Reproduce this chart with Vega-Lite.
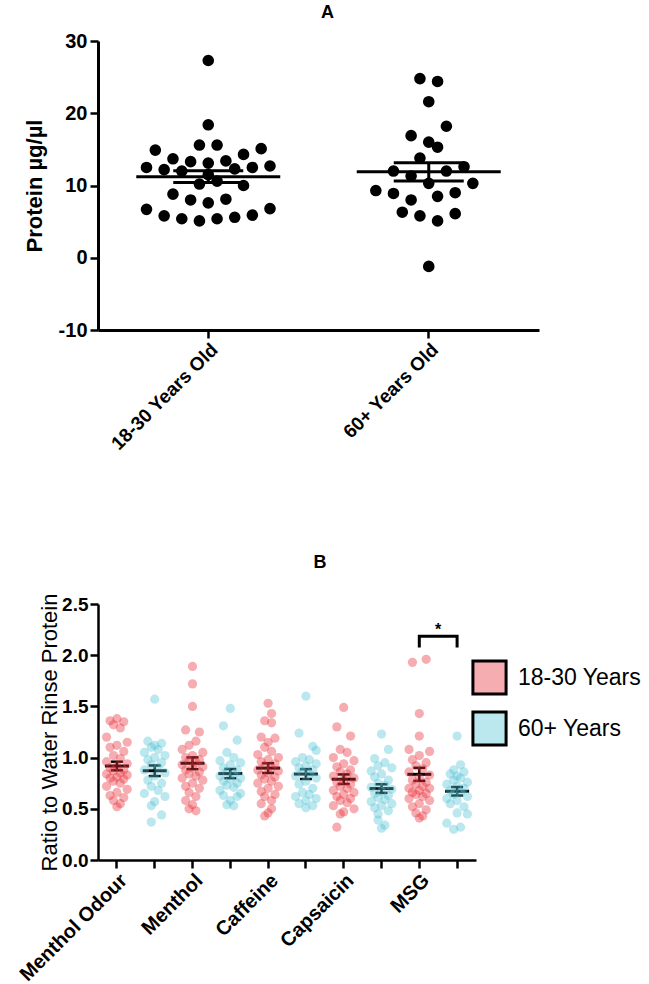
{
  "$schema": "https://vega.github.io/schema/vega-lite/v6.json",
  "padding": {"left": 15, "top": 4, "right": 0, "bottom": 0},
  "spacing": 100,
  "resolve": {"scale": {"xOffset": "independent"}},
  "config": {
    "view": {"stroke": null},
    "font": "Liberation Sans",
    "axis": {"grid": false, "domainColor": "#000", "tickColor": "#000", "labelColor": "#000", "titleColor": "#000", "labelFont": "Liberation Sans", "titleFont": "Liberation Sans", "labelOverlap": false},
    "title": {"font": "Liberation Sans", "fontSize": 18, "fontWeight": "bold", "color": "#000"}
  },
  "vconcat": [
    {
      "width": 441,
      "height": 289,
      "title": {"text": "A", "frame": "group", "dx": 9, "offset": 9},
      "data": {"values": [
        {"group":"18-30 Years Old","protein":27.3,"slot":0},
        {"group":"18-30 Years Old","protein":18.4,"slot":0},
        {"group":"18-30 Years Old","protein":15.6,"slot":-1},
        {"group":"18-30 Years Old","protein":15.6,"slot":1},
        {"group":"18-30 Years Old","protein":14.9,"slot":-6},
        {"group":"18-30 Years Old","protein":15.1,"slot":6},
        {"group":"18-30 Years Old","protein":13.7,"slot":-4},
        {"group":"18-30 Years Old","protein":13.3,"slot":-2},
        {"group":"18-30 Years Old","protein":13.1,"slot":0},
        {"group":"18-30 Years Old","protein":13.4,"slot":2},
        {"group":"18-30 Years Old","protein":14.3,"slot":4},
        {"group":"18-30 Years Old","protein":12.5,"slot":-7},
        {"group":"18-30 Years Old","protein":12.2,"slot":-5},
        {"group":"18-30 Years Old","protein":12.5,"slot":5},
        {"group":"18-30 Years Old","protein":12.7,"slot":7},
        {"group":"18-30 Years Old","protein":12.0,"slot":-3},
        {"group":"18-30 Years Old","protein":11.5,"slot":0},
        {"group":"18-30 Years Old","protein":12.3,"slot":3},
        {"group":"18-30 Years Old","protein":10.2,"slot":-1},
        {"group":"18-30 Years Old","protein":10.6,"slot":1},
        {"group":"18-30 Years Old","protein":10.0,"slot":4},
        {"group":"18-30 Years Old","protein":8.8,"slot":-4},
        {"group":"18-30 Years Old","protein":8.0,"slot":-2},
        {"group":"18-30 Years Old","protein":7.6,"slot":0},
        {"group":"18-30 Years Old","protein":8.1,"slot":2},
        {"group":"18-30 Years Old","protein":6.7,"slot":-7},
        {"group":"18-30 Years Old","protein":6.8,"slot":7},
        {"group":"18-30 Years Old","protein":5.8,"slot":-5},
        {"group":"18-30 Years Old","protein":5.4,"slot":-3},
        {"group":"18-30 Years Old","protein":5.1,"slot":-1},
        {"group":"18-30 Years Old","protein":5.4,"slot":1},
        {"group":"18-30 Years Old","protein":5.6,"slot":3},
        {"group":"18-30 Years Old","protein":5.9,"slot":5},
        {"group":"60+ Years Old","protein":24.8,"slot":-1},
        {"group":"60+ Years Old","protein":24.4,"slot":1},
        {"group":"60+ Years Old","protein":21.6,"slot":0},
        {"group":"60+ Years Old","protein":18.2,"slot":2},
        {"group":"60+ Years Old","protein":16.9,"slot":-2},
        {"group":"60+ Years Old","protein":16.0,"slot":0},
        {"group":"60+ Years Old","protein":15.3,"slot":1},
        {"group":"60+ Years Old","protein":13.8,"slot":-1},
        {"group":"60+ Years Old","protein":12.0,"slot":-4},
        {"group":"60+ Years Old","protein":12.0,"slot":2},
        {"group":"60+ Years Old","protein":12.6,"slot":4},
        {"group":"60+ Years Old","protein":11.3,"slot":-2},
        {"group":"60+ Years Old","protein":10.3,"slot":0},
        {"group":"60+ Years Old","protein":10.3,"slot":5},
        {"group":"60+ Years Old","protein":9.3,"slot":-6},
        {"group":"60+ Years Old","protein":8.9,"slot":-4},
        {"group":"60+ Years Old","protein":9.0,"slot":3},
        {"group":"60+ Years Old","protein":8.0,"slot":-2},
        {"group":"60+ Years Old","protein":8.5,"slot":1},
        {"group":"60+ Years Old","protein":6.3,"slot":-3},
        {"group":"60+ Years Old","protein":6.1,"slot":3},
        {"group":"60+ Years Old","protein":5.8,"slot":-1},
        {"group":"60+ Years Old","protein":5.1,"slot":1},
        {"group":"60+ Years Old","protein":-1.2,"slot":0}
      ]},
      "layer": [
        {
          "mark": {"type": "point", "filled": true, "size": 135, "color": "#000", "opacity": 1},
          "encoding": {
            "x": {"field": "group", "type": "nominal", "sort": null, "scale": {"paddingInner": 0, "paddingOuter": 0},
                  "axis": {"title": null, "labelAngle": -45, "labelFontSize": 19, "labelFontWeight": "bold", "tickSize": 8, "tickWidth": 2.5, "domainWidth": 3, "labelPadding": 2}},
            "xOffset": {"field": "slot", "type": "quantitative", "scale": {"domain": [-12.5, 12.5]}},
            "y": {"field": "protein", "type": "quantitative", "title": "Protein µg/µl",
                  "scale": {"domain": [-10, 30], "nice": false, "zero": false},
                  "axis": {"values": [-10, 0, 10, 20, 30], "labelExpr": "'' + datum.value", "titleFontSize": 22, "titleFontWeight": "bold", "labelFontSize": 20, "labelFontWeight": "bold", "tickSize": 8, "tickWidth": 2.5, "domainWidth": 3, "labelPadding": 3, "titlePadding": 12}}
          }
        },
        {
          "mark": {"type": "errorbar", "extent": "stderr", "color": "#000", "opacity": 1, "thickness": 3, "size": 70, "ticks": {"opacity": 1, "color": "#000"}, "rule": {"opacity": 1, "color": "#000"}},
          "encoding": {
            "x": {"field": "group", "type": "nominal", "sort": null},
            "y": {"field": "protein", "type": "quantitative", "title": "Protein µg/µl"}
          }
        },
        {
          "mark": {"type": "tick", "size": 144, "thickness": 3, "color": "#000", "opacity": 1},
          "encoding": {
            "x": {"field": "group", "type": "nominal", "sort": null},
            "y": {"aggregate": "mean", "field": "protein", "type": "quantitative", "title": "Protein µg/µl"}
          }
        }
      ]
    },
    {
      "width": 378,
      "height": 256,
      "title": {"text": "B", "frame": "group", "dx": 33, "offset": 21},
      "layer": [
        {
          "data": {"values": [
            {"column":"Menthol Odour|18-30","age":"18-30 Years","ratio":1.38,"slot":0},
            {"column":"Menthol Odour|18-30","age":"18-30 Years","ratio":1.36,"slot":-2},
            {"column":"Menthol Odour|18-30","age":"18-30 Years","ratio":1.35,"slot":2},
            {"column":"Menthol Odour|18-30","age":"18-30 Years","ratio":1.32,"slot":-1},
            {"column":"Menthol Odour|18-30","age":"18-30 Years","ratio":1.29,"slot":1},
            {"column":"Menthol Odour|18-30","age":"18-30 Years","ratio":1.20,"slot":-3},
            {"column":"Menthol Odour|18-30","age":"18-30 Years","ratio":1.15,"slot":3},
            {"column":"Menthol Odour|18-30","age":"18-30 Years","ratio":1.12,"slot":0},
            {"column":"Menthol Odour|18-30","age":"18-30 Years","ratio":1.10,"slot":-2},
            {"column":"Menthol Odour|18-30","age":"18-30 Years","ratio":1.06,"slot":2},
            {"column":"Menthol Odour|18-30","age":"18-30 Years","ratio":1.02,"slot":-1},
            {"column":"Menthol Odour|18-30","age":"18-30 Years","ratio":0.99,"slot":1},
            {"column":"Menthol Odour|18-30","age":"18-30 Years","ratio":0.96,"slot":-3},
            {"column":"Menthol Odour|18-30","age":"18-30 Years","ratio":0.94,"slot":3},
            {"column":"Menthol Odour|18-30","age":"18-30 Years","ratio":0.92,"slot":0},
            {"column":"Menthol Odour|18-30","age":"18-30 Years","ratio":0.90,"slot":-2},
            {"column":"Menthol Odour|18-30","age":"18-30 Years","ratio":0.88,"slot":2},
            {"column":"Menthol Odour|18-30","age":"18-30 Years","ratio":0.87,"slot":-1},
            {"column":"Menthol Odour|18-30","age":"18-30 Years","ratio":0.85,"slot":1},
            {"column":"Menthol Odour|18-30","age":"18-30 Years","ratio":0.84,"slot":-3},
            {"column":"Menthol Odour|18-30","age":"18-30 Years","ratio":0.83,"slot":3},
            {"column":"Menthol Odour|18-30","age":"18-30 Years","ratio":0.81,"slot":0},
            {"column":"Menthol Odour|18-30","age":"18-30 Years","ratio":0.80,"slot":-2},
            {"column":"Menthol Odour|18-30","age":"18-30 Years","ratio":0.79,"slot":2},
            {"column":"Menthol Odour|18-30","age":"18-30 Years","ratio":0.77,"slot":-1},
            {"column":"Menthol Odour|18-30","age":"18-30 Years","ratio":0.75,"slot":1},
            {"column":"Menthol Odour|18-30","age":"18-30 Years","ratio":0.72,"slot":-3},
            {"column":"Menthol Odour|18-30","age":"18-30 Years","ratio":0.69,"slot":3},
            {"column":"Menthol Odour|18-30","age":"18-30 Years","ratio":0.66,"slot":0},
            {"column":"Menthol Odour|18-30","age":"18-30 Years","ratio":0.63,"slot":-2},
            {"column":"Menthol Odour|18-30","age":"18-30 Years","ratio":0.61,"slot":2},
            {"column":"Menthol Odour|18-30","age":"18-30 Years","ratio":0.58,"slot":-1},
            {"column":"Menthol Odour|18-30","age":"18-30 Years","ratio":0.55,"slot":1},
            {"column":"Menthol Odour|18-30","age":"18-30 Years","ratio":0.52,"slot":0},

            {"column":"Menthol Odour|60+","age":"60+ Years","ratio":1.57,"slot":0},
            {"column":"Menthol Odour|60+","age":"60+ Years","ratio":1.16,"slot":-2},
            {"column":"Menthol Odour|60+","age":"60+ Years","ratio":1.14,"slot":2},
            {"column":"Menthol Odour|60+","age":"60+ Years","ratio":1.12,"slot":0},
            {"column":"Menthol Odour|60+","age":"60+ Years","ratio":1.10,"slot":-1},
            {"column":"Menthol Odour|60+","age":"60+ Years","ratio":1.08,"slot":1},
            {"column":"Menthol Odour|60+","age":"60+ Years","ratio":1.05,"slot":-3},
            {"column":"Menthol Odour|60+","age":"60+ Years","ratio":1.02,"slot":3},
            {"column":"Menthol Odour|60+","age":"60+ Years","ratio":1.00,"slot":0},
            {"column":"Menthol Odour|60+","age":"60+ Years","ratio":0.98,"slot":-2},
            {"column":"Menthol Odour|60+","age":"60+ Years","ratio":0.95,"slot":2},
            {"column":"Menthol Odour|60+","age":"60+ Years","ratio":0.93,"slot":-1},
            {"column":"Menthol Odour|60+","age":"60+ Years","ratio":0.90,"slot":1},
            {"column":"Menthol Odour|60+","age":"60+ Years","ratio":0.88,"slot":-3},
            {"column":"Menthol Odour|60+","age":"60+ Years","ratio":0.85,"slot":3},
            {"column":"Menthol Odour|60+","age":"60+ Years","ratio":0.82,"slot":0},
            {"column":"Menthol Odour|60+","age":"60+ Years","ratio":0.78,"slot":-2},
            {"column":"Menthol Odour|60+","age":"60+ Years","ratio":0.75,"slot":2},
            {"column":"Menthol Odour|60+","age":"60+ Years","ratio":0.72,"slot":-1},
            {"column":"Menthol Odour|60+","age":"60+ Years","ratio":0.68,"slot":1},
            {"column":"Menthol Odour|60+","age":"60+ Years","ratio":0.65,"slot":-3},
            {"column":"Menthol Odour|60+","age":"60+ Years","ratio":0.62,"slot":3},
            {"column":"Menthol Odour|60+","age":"60+ Years","ratio":0.57,"slot":0},
            {"column":"Menthol Odour|60+","age":"60+ Years","ratio":0.53,"slot":-1},
            {"column":"Menthol Odour|60+","age":"60+ Years","ratio":0.44,"slot":2},
            {"column":"Menthol Odour|60+","age":"60+ Years","ratio":0.37,"slot":-1},

            {"column":"Menthol|18-30","age":"18-30 Years","ratio":1.89,"slot":0},
            {"column":"Menthol|18-30","age":"18-30 Years","ratio":1.72,"slot":0},
            {"column":"Menthol|18-30","age":"18-30 Years","ratio":1.50,"slot":0},
            {"column":"Menthol|18-30","age":"18-30 Years","ratio":1.27,"slot":-2},
            {"column":"Menthol|18-30","age":"18-30 Years","ratio":1.25,"slot":2},
            {"column":"Menthol|18-30","age":"18-30 Years","ratio":1.16,"slot":1},
            {"column":"Menthol|18-30","age":"18-30 Years","ratio":1.12,"slot":-1},
            {"column":"Menthol|18-30","age":"18-30 Years","ratio":1.08,"slot":-3},
            {"column":"Menthol|18-30","age":"18-30 Years","ratio":1.05,"slot":3},
            {"column":"Menthol|18-30","age":"18-30 Years","ratio":1.02,"slot":0},
            {"column":"Menthol|18-30","age":"18-30 Years","ratio":1.00,"slot":-2},
            {"column":"Menthol|18-30","age":"18-30 Years","ratio":0.98,"slot":2},
            {"column":"Menthol|18-30","age":"18-30 Years","ratio":0.97,"slot":-1},
            {"column":"Menthol|18-30","age":"18-30 Years","ratio":0.95,"slot":1},
            {"column":"Menthol|18-30","age":"18-30 Years","ratio":0.93,"slot":-3},
            {"column":"Menthol|18-30","age":"18-30 Years","ratio":0.91,"slot":3},
            {"column":"Menthol|18-30","age":"18-30 Years","ratio":0.90,"slot":0},
            {"column":"Menthol|18-30","age":"18-30 Years","ratio":0.88,"slot":-2},
            {"column":"Menthol|18-30","age":"18-30 Years","ratio":0.86,"slot":2},
            {"column":"Menthol|18-30","age":"18-30 Years","ratio":0.84,"slot":-1},
            {"column":"Menthol|18-30","age":"18-30 Years","ratio":0.82,"slot":1},
            {"column":"Menthol|18-30","age":"18-30 Years","ratio":0.80,"slot":-3},
            {"column":"Menthol|18-30","age":"18-30 Years","ratio":0.78,"slot":3},
            {"column":"Menthol|18-30","age":"18-30 Years","ratio":0.75,"slot":0},
            {"column":"Menthol|18-30","age":"18-30 Years","ratio":0.72,"slot":-2},
            {"column":"Menthol|18-30","age":"18-30 Years","ratio":0.70,"slot":2},
            {"column":"Menthol|18-30","age":"18-30 Years","ratio":0.66,"slot":-1},
            {"column":"Menthol|18-30","age":"18-30 Years","ratio":0.62,"slot":1},
            {"column":"Menthol|18-30","age":"18-30 Years","ratio":0.58,"slot":-2},
            {"column":"Menthol|18-30","age":"18-30 Years","ratio":0.54,"slot":0},
            {"column":"Menthol|18-30","age":"18-30 Years","ratio":0.50,"slot":-1},
            {"column":"Menthol|18-30","age":"18-30 Years","ratio":0.48,"slot":1},

            {"column":"Menthol|60+","age":"60+ Years","ratio":1.48,"slot":0},
            {"column":"Menthol|60+","age":"60+ Years","ratio":1.31,"slot":-2},
            {"column":"Menthol|60+","age":"60+ Years","ratio":1.17,"slot":2},
            {"column":"Menthol|60+","age":"60+ Years","ratio":1.05,"slot":-1},
            {"column":"Menthol|60+","age":"60+ Years","ratio":1.00,"slot":1},
            {"column":"Menthol|60+","age":"60+ Years","ratio":0.97,"slot":-3},
            {"column":"Menthol|60+","age":"60+ Years","ratio":0.95,"slot":3},
            {"column":"Menthol|60+","age":"60+ Years","ratio":0.93,"slot":0},
            {"column":"Menthol|60+","age":"60+ Years","ratio":0.90,"slot":-2},
            {"column":"Menthol|60+","age":"60+ Years","ratio":0.88,"slot":2},
            {"column":"Menthol|60+","age":"60+ Years","ratio":0.86,"slot":-1},
            {"column":"Menthol|60+","age":"60+ Years","ratio":0.84,"slot":1},
            {"column":"Menthol|60+","age":"60+ Years","ratio":0.82,"slot":-3},
            {"column":"Menthol|60+","age":"60+ Years","ratio":0.80,"slot":3},
            {"column":"Menthol|60+","age":"60+ Years","ratio":0.79,"slot":0},
            {"column":"Menthol|60+","age":"60+ Years","ratio":0.77,"slot":-2},
            {"column":"Menthol|60+","age":"60+ Years","ratio":0.75,"slot":2},
            {"column":"Menthol|60+","age":"60+ Years","ratio":0.73,"slot":-1},
            {"column":"Menthol|60+","age":"60+ Years","ratio":0.71,"slot":1},
            {"column":"Menthol|60+","age":"60+ Years","ratio":0.68,"slot":-3},
            {"column":"Menthol|60+","age":"60+ Years","ratio":0.65,"slot":3},
            {"column":"Menthol|60+","age":"60+ Years","ratio":0.63,"slot":-2},
            {"column":"Menthol|60+","age":"60+ Years","ratio":0.62,"slot":2},
            {"column":"Menthol|60+","age":"60+ Years","ratio":0.58,"slot":0},
            {"column":"Menthol|60+","age":"60+ Years","ratio":0.54,"slot":-1},
            {"column":"Menthol|60+","age":"60+ Years","ratio":0.53,"slot":1},

            {"column":"Caffeine|18-30","age":"18-30 Years","ratio":1.53,"slot":0},
            {"column":"Caffeine|18-30","age":"18-30 Years","ratio":1.43,"slot":1},
            {"column":"Caffeine|18-30","age":"18-30 Years","ratio":1.36,"slot":-1},
            {"column":"Caffeine|18-30","age":"18-30 Years","ratio":1.34,"slot":1},
            {"column":"Caffeine|18-30","age":"18-30 Years","ratio":1.20,"slot":-2},
            {"column":"Caffeine|18-30","age":"18-30 Years","ratio":1.19,"slot":2},
            {"column":"Caffeine|18-30","age":"18-30 Years","ratio":1.15,"slot":0},
            {"column":"Caffeine|18-30","age":"18-30 Years","ratio":1.10,"slot":-1},
            {"column":"Caffeine|18-30","age":"18-30 Years","ratio":1.06,"slot":1},
            {"column":"Caffeine|18-30","age":"18-30 Years","ratio":1.03,"slot":-3},
            {"column":"Caffeine|18-30","age":"18-30 Years","ratio":1.00,"slot":3},
            {"column":"Caffeine|18-30","age":"18-30 Years","ratio":0.98,"slot":0},
            {"column":"Caffeine|18-30","age":"18-30 Years","ratio":0.96,"slot":-2},
            {"column":"Caffeine|18-30","age":"18-30 Years","ratio":0.94,"slot":2},
            {"column":"Caffeine|18-30","age":"18-30 Years","ratio":0.92,"slot":-1},
            {"column":"Caffeine|18-30","age":"18-30 Years","ratio":0.90,"slot":1},
            {"column":"Caffeine|18-30","age":"18-30 Years","ratio":0.88,"slot":-3},
            {"column":"Caffeine|18-30","age":"18-30 Years","ratio":0.87,"slot":3},
            {"column":"Caffeine|18-30","age":"18-30 Years","ratio":0.85,"slot":0},
            {"column":"Caffeine|18-30","age":"18-30 Years","ratio":0.83,"slot":-2},
            {"column":"Caffeine|18-30","age":"18-30 Years","ratio":0.81,"slot":2},
            {"column":"Caffeine|18-30","age":"18-30 Years","ratio":0.79,"slot":-1},
            {"column":"Caffeine|18-30","age":"18-30 Years","ratio":0.77,"slot":1},
            {"column":"Caffeine|18-30","age":"18-30 Years","ratio":0.75,"slot":-3},
            {"column":"Caffeine|18-30","age":"18-30 Years","ratio":0.72,"slot":3},
            {"column":"Caffeine|18-30","age":"18-30 Years","ratio":0.70,"slot":0},
            {"column":"Caffeine|18-30","age":"18-30 Years","ratio":0.67,"slot":-2},
            {"column":"Caffeine|18-30","age":"18-30 Years","ratio":0.64,"slot":2},
            {"column":"Caffeine|18-30","age":"18-30 Years","ratio":0.62,"slot":-1},
            {"column":"Caffeine|18-30","age":"18-30 Years","ratio":0.58,"slot":1},
            {"column":"Caffeine|18-30","age":"18-30 Years","ratio":0.55,"slot":-2},
            {"column":"Caffeine|18-30","age":"18-30 Years","ratio":0.50,"slot":1},
            {"column":"Caffeine|18-30","age":"18-30 Years","ratio":0.46,"slot":0},
            {"column":"Caffeine|18-30","age":"18-30 Years","ratio":0.43,"slot":-1},

            {"column":"Caffeine|60+","age":"60+ Years","ratio":1.60,"slot":0},
            {"column":"Caffeine|60+","age":"60+ Years","ratio":1.24,"slot":-2},
            {"column":"Caffeine|60+","age":"60+ Years","ratio":1.11,"slot":2},
            {"column":"Caffeine|60+","age":"60+ Years","ratio":1.07,"slot":3},
            {"column":"Caffeine|60+","age":"60+ Years","ratio":1.00,"slot":-1},
            {"column":"Caffeine|60+","age":"60+ Years","ratio":0.98,"slot":1},
            {"column":"Caffeine|60+","age":"60+ Years","ratio":0.96,"slot":-3},
            {"column":"Caffeine|60+","age":"60+ Years","ratio":0.94,"slot":3},
            {"column":"Caffeine|60+","age":"60+ Years","ratio":0.92,"slot":0},
            {"column":"Caffeine|60+","age":"60+ Years","ratio":0.90,"slot":-2},
            {"column":"Caffeine|60+","age":"60+ Years","ratio":0.88,"slot":2},
            {"column":"Caffeine|60+","age":"60+ Years","ratio":0.86,"slot":-1},
            {"column":"Caffeine|60+","age":"60+ Years","ratio":0.84,"slot":1},
            {"column":"Caffeine|60+","age":"60+ Years","ratio":0.82,"slot":-3},
            {"column":"Caffeine|60+","age":"60+ Years","ratio":0.80,"slot":3},
            {"column":"Caffeine|60+","age":"60+ Years","ratio":0.77,"slot":0},
            {"column":"Caffeine|60+","age":"60+ Years","ratio":0.74,"slot":-2},
            {"column":"Caffeine|60+","age":"60+ Years","ratio":0.70,"slot":2},
            {"column":"Caffeine|60+","age":"60+ Years","ratio":0.66,"slot":-1},
            {"column":"Caffeine|60+","age":"60+ Years","ratio":0.64,"slot":1},
            {"column":"Caffeine|60+","age":"60+ Years","ratio":0.62,"slot":-3},
            {"column":"Caffeine|60+","age":"60+ Years","ratio":0.60,"slot":3},
            {"column":"Caffeine|60+","age":"60+ Years","ratio":0.58,"slot":0},
            {"column":"Caffeine|60+","age":"60+ Years","ratio":0.55,"slot":-2},
            {"column":"Caffeine|60+","age":"60+ Years","ratio":0.53,"slot":2},
            {"column":"Caffeine|60+","age":"60+ Years","ratio":0.51,"slot":0},

            {"column":"Capsaicin|18-30","age":"18-30 Years","ratio":1.49,"slot":0},
            {"column":"Capsaicin|18-30","age":"18-30 Years","ratio":1.30,"slot":-2},
            {"column":"Capsaicin|18-30","age":"18-30 Years","ratio":1.21,"slot":2},
            {"column":"Capsaicin|18-30","age":"18-30 Years","ratio":1.08,"slot":-1},
            {"column":"Capsaicin|18-30","age":"18-30 Years","ratio":1.05,"slot":1},
            {"column":"Capsaicin|18-30","age":"18-30 Years","ratio":1.00,"slot":-3},
            {"column":"Capsaicin|18-30","age":"18-30 Years","ratio":0.97,"slot":3},
            {"column":"Capsaicin|18-30","age":"18-30 Years","ratio":0.94,"slot":0},
            {"column":"Capsaicin|18-30","age":"18-30 Years","ratio":0.91,"slot":-2},
            {"column":"Capsaicin|18-30","age":"18-30 Years","ratio":0.88,"slot":2},
            {"column":"Capsaicin|18-30","age":"18-30 Years","ratio":0.86,"slot":-1},
            {"column":"Capsaicin|18-30","age":"18-30 Years","ratio":0.84,"slot":1},
            {"column":"Capsaicin|18-30","age":"18-30 Years","ratio":0.82,"slot":-3},
            {"column":"Capsaicin|18-30","age":"18-30 Years","ratio":0.80,"slot":3},
            {"column":"Capsaicin|18-30","age":"18-30 Years","ratio":0.78,"slot":0},
            {"column":"Capsaicin|18-30","age":"18-30 Years","ratio":0.76,"slot":-2},
            {"column":"Capsaicin|18-30","age":"18-30 Years","ratio":0.74,"slot":2},
            {"column":"Capsaicin|18-30","age":"18-30 Years","ratio":0.72,"slot":-1},
            {"column":"Capsaicin|18-30","age":"18-30 Years","ratio":0.70,"slot":1},
            {"column":"Capsaicin|18-30","age":"18-30 Years","ratio":0.68,"slot":-3},
            {"column":"Capsaicin|18-30","age":"18-30 Years","ratio":0.66,"slot":3},
            {"column":"Capsaicin|18-30","age":"18-30 Years","ratio":0.64,"slot":0},
            {"column":"Capsaicin|18-30","age":"18-30 Years","ratio":0.62,"slot":-2},
            {"column":"Capsaicin|18-30","age":"18-30 Years","ratio":0.60,"slot":2},
            {"column":"Capsaicin|18-30","age":"18-30 Years","ratio":0.58,"slot":-1},
            {"column":"Capsaicin|18-30","age":"18-30 Years","ratio":0.56,"slot":1},
            {"column":"Capsaicin|18-30","age":"18-30 Years","ratio":0.53,"slot":-3},
            {"column":"Capsaicin|18-30","age":"18-30 Years","ratio":0.50,"slot":3},
            {"column":"Capsaicin|18-30","age":"18-30 Years","ratio":0.47,"slot":0},
            {"column":"Capsaicin|18-30","age":"18-30 Years","ratio":0.45,"slot":-1},
            {"column":"Capsaicin|18-30","age":"18-30 Years","ratio":0.32,"slot":-2},

            {"column":"Capsaicin|60+","age":"60+ Years","ratio":1.23,"slot":0},
            {"column":"Capsaicin|60+","age":"60+ Years","ratio":1.08,"slot":2},
            {"column":"Capsaicin|60+","age":"60+ Years","ratio":0.99,"slot":-2},
            {"column":"Capsaicin|60+","age":"60+ Years","ratio":0.95,"slot":1},
            {"column":"Capsaicin|60+","age":"60+ Years","ratio":0.92,"slot":-1},
            {"column":"Capsaicin|60+","age":"60+ Years","ratio":0.90,"slot":3},
            {"column":"Capsaicin|60+","age":"60+ Years","ratio":0.87,"slot":-3},
            {"column":"Capsaicin|60+","age":"60+ Years","ratio":0.84,"slot":0},
            {"column":"Capsaicin|60+","age":"60+ Years","ratio":0.81,"slot":-2},
            {"column":"Capsaicin|60+","age":"60+ Years","ratio":0.78,"slot":2},
            {"column":"Capsaicin|60+","age":"60+ Years","ratio":0.75,"slot":-1},
            {"column":"Capsaicin|60+","age":"60+ Years","ratio":0.73,"slot":1},
            {"column":"Capsaicin|60+","age":"60+ Years","ratio":0.71,"slot":-3},
            {"column":"Capsaicin|60+","age":"60+ Years","ratio":0.69,"slot":3},
            {"column":"Capsaicin|60+","age":"60+ Years","ratio":0.67,"slot":0},
            {"column":"Capsaicin|60+","age":"60+ Years","ratio":0.65,"slot":-2},
            {"column":"Capsaicin|60+","age":"60+ Years","ratio":0.63,"slot":2},
            {"column":"Capsaicin|60+","age":"60+ Years","ratio":0.61,"slot":-1},
            {"column":"Capsaicin|60+","age":"60+ Years","ratio":0.59,"slot":1},
            {"column":"Capsaicin|60+","age":"60+ Years","ratio":0.57,"slot":-3},
            {"column":"Capsaicin|60+","age":"60+ Years","ratio":0.55,"slot":3},
            {"column":"Capsaicin|60+","age":"60+ Years","ratio":0.53,"slot":0},
            {"column":"Capsaicin|60+","age":"60+ Years","ratio":0.51,"slot":-2},
            {"column":"Capsaicin|60+","age":"60+ Years","ratio":0.48,"slot":2},
            {"column":"Capsaicin|60+","age":"60+ Years","ratio":0.45,"slot":-1},
            {"column":"Capsaicin|60+","age":"60+ Years","ratio":0.39,"slot":-1},
            {"column":"Capsaicin|60+","age":"60+ Years","ratio":0.34,"slot":1},
            {"column":"Capsaicin|60+","age":"60+ Years","ratio":0.31,"slot":0},

            {"column":"MSG|18-30","age":"18-30 Years","ratio":1.96,"slot":2},
            {"column":"MSG|18-30","age":"18-30 Years","ratio":1.93,"slot":-2},
            {"column":"MSG|18-30","age":"18-30 Years","ratio":1.43,"slot":0},
            {"column":"MSG|18-30","age":"18-30 Years","ratio":1.21,"slot":0},
            {"column":"MSG|18-30","age":"18-30 Years","ratio":1.08,"slot":-3},
            {"column":"MSG|18-30","age":"18-30 Years","ratio":1.06,"slot":3},
            {"column":"MSG|18-30","age":"18-30 Years","ratio":1.02,"slot":0},
            {"column":"MSG|18-30","age":"18-30 Years","ratio":0.98,"slot":-2},
            {"column":"MSG|18-30","age":"18-30 Years","ratio":0.95,"slot":2},
            {"column":"MSG|18-30","age":"18-30 Years","ratio":0.92,"slot":-1},
            {"column":"MSG|18-30","age":"18-30 Years","ratio":0.89,"slot":1},
            {"column":"MSG|18-30","age":"18-30 Years","ratio":0.86,"slot":-3},
            {"column":"MSG|18-30","age":"18-30 Years","ratio":0.83,"slot":3},
            {"column":"MSG|18-30","age":"18-30 Years","ratio":0.80,"slot":0},
            {"column":"MSG|18-30","age":"18-30 Years","ratio":0.78,"slot":-2},
            {"column":"MSG|18-30","age":"18-30 Years","ratio":0.76,"slot":2},
            {"column":"MSG|18-30","age":"18-30 Years","ratio":0.74,"slot":-1},
            {"column":"MSG|18-30","age":"18-30 Years","ratio":0.72,"slot":1},
            {"column":"MSG|18-30","age":"18-30 Years","ratio":0.70,"slot":-3},
            {"column":"MSG|18-30","age":"18-30 Years","ratio":0.70,"slot":3},
            {"column":"MSG|18-30","age":"18-30 Years","ratio":0.68,"slot":0},
            {"column":"MSG|18-30","age":"18-30 Years","ratio":0.66,"slot":-2},
            {"column":"MSG|18-30","age":"18-30 Years","ratio":0.65,"slot":2},
            {"column":"MSG|18-30","age":"18-30 Years","ratio":0.64,"slot":-1},
            {"column":"MSG|18-30","age":"18-30 Years","ratio":0.62,"slot":1},
            {"column":"MSG|18-30","age":"18-30 Years","ratio":0.60,"slot":-3},
            {"column":"MSG|18-30","age":"18-30 Years","ratio":0.58,"slot":3},
            {"column":"MSG|18-30","age":"18-30 Years","ratio":0.55,"slot":0},
            {"column":"MSG|18-30","age":"18-30 Years","ratio":0.52,"slot":-2},
            {"column":"MSG|18-30","age":"18-30 Years","ratio":0.49,"slot":2},
            {"column":"MSG|18-30","age":"18-30 Years","ratio":0.46,"slot":-1},
            {"column":"MSG|18-30","age":"18-30 Years","ratio":0.43,"slot":1},
            {"column":"MSG|18-30","age":"18-30 Years","ratio":0.41,"slot":0},

            {"column":"MSG|60+","age":"60+ Years","ratio":1.21,"slot":0},
            {"column":"MSG|60+","age":"60+ Years","ratio":0.93,"slot":1},
            {"column":"MSG|60+","age":"60+ Years","ratio":0.88,"slot":-1},
            {"column":"MSG|60+","age":"60+ Years","ratio":0.86,"slot":2},
            {"column":"MSG|60+","age":"60+ Years","ratio":0.84,"slot":-2},
            {"column":"MSG|60+","age":"60+ Years","ratio":0.82,"slot":0},
            {"column":"MSG|60+","age":"60+ Years","ratio":0.80,"slot":1},
            {"column":"MSG|60+","age":"60+ Years","ratio":0.78,"slot":-1},
            {"column":"MSG|60+","age":"60+ Years","ratio":0.76,"slot":3},
            {"column":"MSG|60+","age":"60+ Years","ratio":0.74,"slot":-3},
            {"column":"MSG|60+","age":"60+ Years","ratio":0.72,"slot":0},
            {"column":"MSG|60+","age":"60+ Years","ratio":0.70,"slot":2},
            {"column":"MSG|60+","age":"60+ Years","ratio":0.68,"slot":-2},
            {"column":"MSG|60+","age":"60+ Years","ratio":0.66,"slot":1},
            {"column":"MSG|60+","age":"60+ Years","ratio":0.64,"slot":-1},
            {"column":"MSG|60+","age":"60+ Years","ratio":0.62,"slot":3},
            {"column":"MSG|60+","age":"60+ Years","ratio":0.60,"slot":-3},
            {"column":"MSG|60+","age":"60+ Years","ratio":0.58,"slot":0},
            {"column":"MSG|60+","age":"60+ Years","ratio":0.55,"slot":-2},
            {"column":"MSG|60+","age":"60+ Years","ratio":0.52,"slot":2},
            {"column":"MSG|60+","age":"60+ Years","ratio":0.46,"slot":0},
            {"column":"MSG|60+","age":"60+ Years","ratio":0.45,"slot":3},
            {"column":"MSG|60+","age":"60+ Years","ratio":0.36,"slot":-3},
            {"column":"MSG|60+","age":"60+ Years","ratio":0.32,"slot":1},
            {"column":"MSG|60+","age":"60+ Years","ratio":0.30,"slot":-1}
          ]},
          "layer": [
            {
              "mark": {"type": "errorbar", "extent": "stderr", "color": "#000", "opacity": 1, "thickness": 2.5, "size": 12, "ticks": {"opacity": 1, "color": "#000"}, "rule": {"opacity": 1, "color": "#000"}},
              "encoding": {
                "x": {"field": "column", "type": "nominal",
                      "scale": {"domain": ["Menthol Odour|18-30","Menthol Odour|60+","Menthol|18-30","Menthol|60+","Caffeine|18-30","Caffeine|60+","Capsaicin|18-30","Capsaicin|60+","MSG|18-30","MSG|60+"], "paddingInner": 0, "paddingOuter": 0},
                      "axis": {"title": null, "labelAngle": -45, "labelFontSize": 20, "labelFontWeight": "bold", "tickSize": 8, "tickWidth": 2.5, "domainWidth": 2.5, "labelPadding": 2,
                               "labelExpr": "indexof(datum.value, '|18-30') > 0 ? split(datum.value, '|')[0] : ''"}},
                "y": {"field": "ratio", "type": "quantitative", "title": "Ratio to Water Rinse Protein",
                      "scale": {"domain": [0, 2.5], "nice": false},
                      "axis": {"values": [0, 0.5, 1, 1.5, 2, 2.5], "format": ".1f", "titleFontSize": 22, "titleFontWeight": "normal", "labelFontSize": 19, "labelFontWeight": "bold", "tickSize": 8, "tickWidth": 2.5, "domainWidth": 2.5, "labelPadding": 2, "titlePadding": 0}}
              }
            },
            {
              "mark": {"type": "tick", "size": 24, "thickness": 3, "color": "#000", "opacity": 1},
              "encoding": {
                "x": {"field": "column", "type": "nominal"},
                "y": {"aggregate": "mean", "field": "ratio", "type": "quantitative", "title": "Ratio to Water Rinse Protein"}
              }
            },
            {
              "mark": {"type": "point", "filled": true, "size": 85, "opacity": 1, "fillOpacity": 0.4, "strokeWidth": 0},
              "encoding": {
                "x": {"field": "column", "type": "nominal"},
                "xOffset": {"field": "slot", "type": "quantitative", "scale": {"domain": [-5.5, 5.5]}},
                "y": {"field": "ratio", "type": "quantitative", "title": "Ratio to Water Rinse Protein"},
                "color": {"field": "age", "type": "nominal",
                          "scale": {"range": ["#e8333b", "#55c3d5"]},
                          "legend": null}
              }
            }
          ]
        },
        {
          "data": {"values": [{"agegroup": "18-30 Years"}, {"agegroup": "60+ Years"}]},
          "mark": {"type": "square", "size": 0, "opacity": 1, "filled": true},
          "encoding": {
            "fill": {"field": "agegroup", "type": "nominal",
                     "scale": {"domain": ["18-30 Years", "60+ Years"], "range": ["#f6adb1", "#bbe7ee"]},
                     "legend": {"title": null, "orient": "none", "legendX": 373, "legendY": 618, "padding": 0,
                                "symbolType": "square", "symbolSize": 1100, "symbolStrokeWidth": 3, "symbolStrokeColor": "#000", "symbolOpacity": 1,
                                "labelFontSize": 23, "labelFont": "Liberation Sans", "labelColor": "#000", "labelOffset": 10, "rowPadding": 4}}
          }
        },
        {
          "data": {"values": [
            {"column": "MSG|18-30", "ratio": 2.09, "order": 1},
            {"column": "MSG|18-30", "ratio": 2.185, "order": 2},
            {"column": "MSG|60+", "ratio": 2.185, "order": 3},
            {"column": "MSG|60+", "ratio": 2.09, "order": 4}
          ]},
          "mark": {"type": "line", "color": "#000", "strokeWidth": 3, "strokeCap": "square"},
          "encoding": {
            "x": {"field": "column", "type": "nominal"},
            "y": {"field": "ratio", "type": "quantitative", "title": "Ratio to Water Rinse Protein"},
            "order": {"field": "order"}
          }
        },
        {
          "data": {"values": [{"column": "MSG|18-30", "ratio": 2.2, "label": "*"}]},
          "mark": {"type": "text", "fontSize": 16, "fontWeight": "bold", "baseline": "alphabetic", "align": "center", "color": "#000"},
          "encoding": {
            "x": {"field": "column", "type": "nominal", "bandPosition": 1},
            "y": {"field": "ratio", "type": "quantitative", "title": "Ratio to Water Rinse Protein"},
            "text": {"field": "label"}
          }
        }
      ]
    }
  ]
}
